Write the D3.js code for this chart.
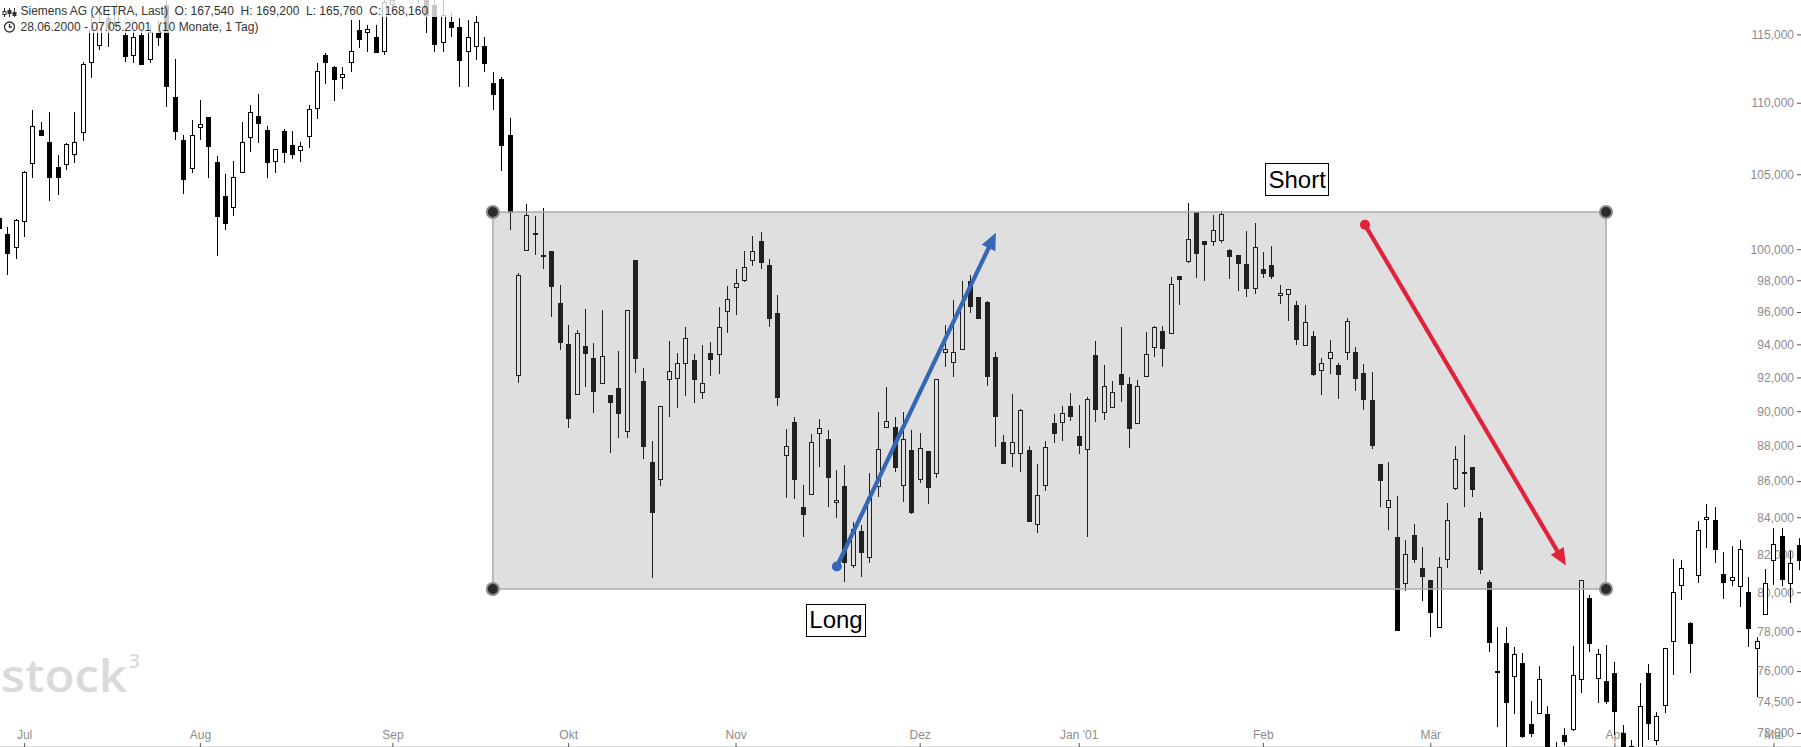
<!DOCTYPE html>
<html>
<head>
<meta charset="utf-8">
<script src="https://cdn.jsdelivr.net/npm/d3@7"></script>
<style>
body { margin: 0; background: #fff; }
svg { display: block; font-family: Arial, "Liberation Sans", sans-serif; }
</style>
</head>
<body>
<div id="chart"></div>
<script>
// Data: daily candles, 28.06.2000 - 07.05.2001 (one entry per trading day)
var openP = [
  102.05, 101.00, 100.15, 101.86, 105.77, 108.07, 107.23, 105.50, 105.70, 106.39,
  107.93, 112.95, 114.21, 116.23, 115.71, 114.96, 113.47, 114.96, 113.18, 115.11,
  117.22, 110.41, 107.37, 105.43, 108.28, 108.98, 105.84, 103.52, 102.79, 105.15,
  107.58, 109.06, 108.07, 105.91, 108.00, 107.02, 106.67, 107.65, 109.62, 113.47,
  112.59, 111.86, 112.95, 115.33, 115.18, 114.81, 113.77, 117.30, 117.99, 118.77,
  118.22, 117.60, 117.22, 114.43, 115.93, 115.56, 113.77, 114.14, 114.14, 111.42,
  111.71, 107.72, 92.14, 99.95, 101.06, 99.63, 99.89, 96.56, 94.02, 91.01,
  93.90, 93.17, 91.67, 90.95, 91.37, 88.85, 99.30, 91.79, 87.07, 86.12,
  91.91, 91.97, 92.87, 93.05, 91.13, 93.47, 93.41, 96.06, 97.57, 98.02,
  99.30, 100.54, 98.98, 95.94, 87.47, 89.37, 84.56, 85.28, 88.73, 88.39,
  84.84, 85.72, 81.43, 83.25, 81.85, 85.72, 89.08, 89.08, 85.78, 87.76,
  86.12, 87.70, 86.45, 93.53, 92.93, 93.72, 97.96, 96.94, 96.63, 93.23,
  88.21, 87.58, 87.58, 87.76, 83.63, 85.78, 89.31, 89.37, 90.31, 88.56,
  87.81, 93.35, 89.95, 90.25, 92.20, 91.61, 89.31, 92.08, 93.84, 94.82,
  94.70, 98.28, 99.24, 102.45, 100.51, 100.51, 100.60, 99.95, 99.63, 99.05,
  97.51, 98.72, 98.98, 97.04, 97.13, 96.44, 93.96, 94.51, 92.44, 93.17,
  92.75, 93.53, 93.53, 92.26, 90.66, 86.96, 84.56, 82.93, 80.48, 83.03,
  81.27, 80.64, 78.21, 81.75, 85.61, 86.45, 86.79, 83.96, 80.53, 75.95,
  77.40, 75.76, 76.40, 73.43, 73.95, 73.91, 72.30, 72.90, 73.19, 75.61,
  79.70, 75.66, 75.51, 75.90, 73.00, 72.40, 72.29, 75.90, 72.67, 74.34,
  77.50, 80.38, 78.41, 80.90, 83.90, 83.85, 80.95, 80.64, 80.32, 80.01,
  77.15, 78.87, 81.69, 82.98, 80.48, 82.50
];
var highP = [
  102.39, 101.46, 101.99, 105.22, 109.48, 108.63, 109.34, 106.32, 107.16, 109.34,
  112.95, 116.46, 116.99, 116.99, 117.45, 115.48, 115.33, 115.33, 115.71, 116.08,
  117.60, 113.18, 107.72, 108.77, 110.20, 108.98, 106.25, 105.02, 105.91, 108.63,
  109.84, 110.63, 108.35, 106.74, 108.14, 108.00, 107.23, 109.84, 112.88, 113.62,
  112.66, 112.59, 116.08, 116.08, 115.71, 115.71, 117.83, 118.06, 119.94, 119.55,
  118.77, 117.99, 117.60, 117.60, 116.69, 116.23, 116.08, 116.39, 114.81, 112.22,
  111.86, 108.91, 98.47, 102.99, 102.19, 102.72, 99.89, 97.70, 95.19, 94.88,
  96.19, 94.08, 96.12, 90.95, 93.59, 96.12, 99.30, 92.56, 88.27, 90.31,
  94.21, 93.47, 95.07, 93.41, 93.96, 94.14, 96.31, 97.64, 98.72, 99.89,
  100.87, 101.13, 99.37, 97.07, 88.96, 89.66, 85.78, 88.67, 89.54, 88.91,
  86.62, 86.90, 83.74, 83.58, 86.45, 89.95, 91.43, 89.66, 89.95, 88.91,
  88.73, 87.70, 91.91, 95.19, 96.75, 97.96, 98.34, 96.94, 96.69, 93.53,
  88.62, 91.01, 90.13, 87.98, 86.96, 88.27, 89.84, 90.31, 91.07, 90.36,
  90.84, 94.21, 92.75, 91.79, 95.07, 92.02, 91.85, 94.76, 95.13, 95.13,
  98.21, 98.28, 103.05, 102.45, 100.54, 102.25, 102.52, 100.02, 99.63, 101.19,
  101.72, 99.82, 100.21, 97.70, 97.45, 96.69, 96.44, 94.82, 93.17, 94.27,
  92.87, 95.63, 93.84, 92.81, 92.32, 86.96, 87.07, 85.17, 82.76, 83.63,
  82.39, 80.64, 81.85, 84.78, 87.98, 88.62, 86.79, 84.29, 80.64, 78.21,
  78.21, 77.20, 76.90, 74.53, 76.25, 74.29, 72.57, 73.24, 77.25, 80.64,
  79.86, 77.10, 77.30, 76.45, 73.38, 72.67, 75.41, 76.35, 74.00, 77.15,
  81.75, 81.69, 78.47, 83.79, 84.73, 84.56, 82.12, 82.44, 82.76, 80.80,
  77.70, 81.22, 83.41, 83.41, 82.17, 82.87
];
var lowP = [
  101.13, 98.34, 99.37, 100.80, 104.74, 107.65, 103.19, 103.59, 105.29, 105.77,
  107.30, 111.79, 113.84, 114.06, 115.48, 112.95, 112.88, 112.73, 112.88, 114.14,
  109.70, 107.37, 103.66, 105.08, 107.37, 104.74, 99.56, 101.26, 102.19, 105.15,
  106.53, 107.16, 104.74, 105.08, 105.77, 106.05, 105.84, 106.81, 108.84, 111.35,
  110.12, 110.99, 112.22, 113.99, 113.69, 113.69, 113.47, 116.99, 117.60, 117.60,
  117.37, 115.11, 113.69, 113.69, 114.81, 111.13, 111.13, 113.10, 112.22, 109.48,
  105.22, 101.26, 91.67, 99.89, 99.63, 98.72, 95.69, 93.66, 89.02, 90.95,
  91.43, 89.89, 91.67, 87.58, 88.44, 88.44, 92.26, 87.24, 80.74, 85.72,
  89.66, 90.19, 90.89, 90.48, 90.72, 92.08, 92.20, 94.70, 95.81, 97.89,
  98.92, 98.72, 95.07, 90.31, 85.06, 85.00, 82.93, 85.28, 86.79, 84.56,
  83.96, 80.53, 81.27, 80.80, 81.54, 85.11, 89.08, 86.51, 84.84, 84.18,
  85.89, 84.73, 86.17, 92.63, 92.02, 93.72, 95.94, 95.63, 91.49, 87.93,
  87.02, 86.79, 86.51, 83.79, 83.14, 85.45, 88.16, 88.27, 89.43, 87.53,
  82.93, 89.37, 89.49, 90.19, 90.54, 87.87, 89.25, 92.08, 93.23, 92.63,
  94.70, 96.44, 99.11, 98.15, 97.96, 100.21, 100.41, 98.08, 97.32, 96.94,
  97.13, 98.15, 98.08, 96.50, 95.44, 93.96, 93.96, 92.08, 90.95, 92.20,
  90.72, 93.05, 91.19, 90.07, 87.81, 84.56, 83.30, 78.06, 80.06, 81.54,
  79.54, 77.70, 78.21, 81.27, 85.50, 84.56, 85.11, 80.95, 76.95, 73.28,
  72.20, 73.91, 72.76, 72.81, 73.95, 71.50, 71.80, 72.40, 73.09, 74.92,
  76.95, 74.44, 74.39, 72.90, 71.73, 71.90, 71.96, 72.67, 72.43, 73.95,
  75.81, 79.60, 75.90, 80.48, 82.33, 81.54, 79.65, 80.32, 79.23, 77.20,
  74.73, 78.87, 80.38, 80.32, 79.44, 81.16
];
var closeP = [
  101.39, 99.76, 101.92, 105.15, 108.35, 107.72, 104.81, 104.81, 107.09, 107.23,
  112.81, 115.33, 115.93, 115.48, 116.69, 113.40, 114.81, 112.81, 115.18, 114.81,
  111.20, 108.00, 104.68, 107.72, 108.49, 106.95, 102.19, 101.72, 104.81, 107.23,
  109.34, 108.56, 105.84, 106.74, 106.53, 106.39, 106.95, 109.55, 112.30, 112.95,
  111.71, 112.08, 113.77, 114.66, 115.41, 113.69, 117.45, 117.60, 119.16, 117.99,
  117.83, 116.46, 114.28, 116.46, 115.56, 113.10, 114.81, 115.93, 112.88, 110.63,
  107.02, 102.45, 98.34, 102.25, 101.00, 99.60, 97.64, 94.14, 89.60, 94.70,
  93.47, 91.19, 93.29, 90.54, 89.89, 96.12, 93.17, 87.98, 84.29, 90.31,
  92.38, 92.87, 94.39, 91.91, 91.67, 93.11, 95.07, 96.82, 97.83, 98.85,
  99.89, 99.17, 95.63, 90.84, 87.98, 86.12, 84.18, 88.21, 89.02, 86.23,
  84.95, 81.59, 83.36, 82.12, 85.11, 87.81, 89.43, 86.79, 88.39, 84.29,
  87.87, 85.67, 91.91, 93.72, 93.53, 96.56, 96.37, 95.63, 92.08, 89.72,
  87.02, 88.21, 90.07, 83.79, 85.22, 87.93, 88.73, 89.89, 89.72, 88.04,
  90.72, 90.13, 91.49, 91.13, 91.61, 89.02, 91.49, 93.41, 95.07, 93.78,
  97.76, 98.08, 100.67, 99.76, 100.34, 101.26, 102.32, 99.56, 99.11, 97.51,
  100.15, 98.47, 98.28, 97.19, 97.42, 94.33, 95.38, 92.20, 92.87, 93.53,
  92.20, 95.44, 91.97, 90.72, 88.04, 86.06, 84.95, 78.06, 82.01, 81.75,
  80.85, 78.98, 81.32, 83.85, 87.24, 86.51, 85.56, 81.22, 77.45, 76.00,
  74.49, 76.85, 72.85, 73.00, 75.61, 72.00, 72.00, 72.60, 75.81, 80.64,
  77.40, 76.85, 74.53, 74.05, 71.96, 72.10, 74.29, 73.48, 73.81, 77.15,
  80.01, 81.27, 77.40, 83.30, 84.01, 82.28, 80.53, 80.80, 82.28, 78.16,
  77.50, 80.48, 82.55, 80.69, 81.54, 81.69
];

// x axis: month labels at the index of the first trading day of each month
var monthLabels = ['Jul', 'Aug', 'Sep', 'Okt', 'Nov', 'Dez', "Jan '01", 'Feb', 'M\u00e4r', 'Apr', 'Mai'];
var monthIdx    = [3, 24, 47, 68, 88, 110, 129, 151, 171, 193, 212];

// y axis ticks
var priceTicks = [115, 110, 105, 100, 98, 96, 94, 92, 90, 88, 86, 84, 82, 80, 78, 76, 74.5, 73];

// drawings: zone, arrows, labels  ([index, price])
var zoneIdx     = [59, 192];
var zonePrice   = [102.45, 80.17];
var longArrow   = [[100.1, 81.35], [119.1, 101.08]];
var shortArrow  = [[163.2, 101.60], [187.2, 81.40]];
var labelText   = ['Short', 'Long'];
var labelIdx    = [155.1, 100.0];
var labelPrice  = [104.67, 78.57];

var chart_width  = 1801;
var chart_height = 747;

var de = d3.formatLocale({ decimal: ',', thousands: '.', grouping: [3], currency: ['', ' \u20ac'] });
var fmt = de.format(',.3f');

var x = d3.scaleLinear().domain([0, 215]).range([-1, 1798.55]);
var y = d3.scaleLog().domain([73, 115]).range([733, 34.4]);

var svg = d3.select('#chart')
    .append('svg')
    .attr('width', chart_width)
    .attr('height', chart_height);

// y axis (labels sit under the candles)
var yAxis = svg.append('g')
    .attr('transform', 'translate(' + chart_width + ',0)')
    .call(d3.axisLeft(y).tickValues(priceTicks).tickFormat(fmt).tickSize(4).tickPadding(3));
yAxis.select('.domain').remove();
yAxis.selectAll('text').attr('fill', '#8c8c8c').style('font-size', '12px').style('font-family', 'Arial, "Liberation Sans", sans-serif');
yAxis.selectAll('line').attr('stroke', '#555');

// x axis
svg.append('line')
    .attr('x1', 0).attr('x2', chart_width)
    .attr('y1', 746.5).attr('y2', 746.5)
    .attr('stroke', '#dcdcdc');
var xAxis = svg.append('g')
    .attr('transform', 'translate(0,747)')
    .call(d3.axisTop(x).tickValues(monthIdx).tickFormat(function(d, i){ return monthLabels[i]; }).tickSize(4).tickPadding(4));
xAxis.select('.domain').remove();
xAxis.selectAll('text').attr('fill', '#8c8c8c').style('font-size', '12px').style('font-family', 'Arial, "Liberation Sans", sans-serif');
xAxis.selectAll('line').attr('stroke', '#555');

// watermark
var logo = svg.append('g').attr('fill', '#dadada');
logo.append('text')
    .attr('x', 1).attr('y', 692)
    .attr('textLength', 126).attr('lengthAdjust', 'spacingAndGlyphs')
    .style('font-family', '"Open Sans", Arial, sans-serif')
    .style('font-size', '45px')
    .style('font-weight', 600)
    .text('stock');
logo.append('text')
    .attr('x', 129).attr('y', 668)
    .style('font-family', '"Open Sans", Arial, sans-serif')
    .style('font-size', '19px')
    .style('font-weight', 600)
    .text('3');

// candles
var candles = svg.selectAll('g.candle')
    .data(d3.range(openP.length))
    .enter()
    .append('g')
    .attr('class', 'candle');

candles.append('line')
    .attr('x1', function(i){ return Math.round(x(i)) + 0.5; })
    .attr('x2', function(i){ return Math.round(x(i)) + 0.5; })
    .attr('y1', function(i){ return y(highP[i]); })
    .attr('y2', function(i){ return y(lowP[i]); })
    .attr('stroke', '#000')
    .attr('stroke-width', 1);

candles.append('rect')
    .attr('x', function(i){ return Math.round(x(i)) - 1.5; })
    .attr('width', 4)
    .attr('y', function(i){ return Math.round(y(Math.max(openP[i], closeP[i]))) + 0.5; })
    .attr('height', function(i){
        var h = Math.round(y(Math.min(openP[i], closeP[i]))) - Math.round(y(Math.max(openP[i], closeP[i])));
        return Math.max(1, h);
    })
    .attr('fill', function(i){ return closeP[i] >= openP[i] ? '#fff' : '#000'; })
    .attr('stroke', '#000')
    .attr('stroke-width', 1);

// zone
var zx0 = x(zoneIdx[0]), zx1 = x(zoneIdx[1]);
var zy0 = y(zonePrice[0]), zy1 = y(zonePrice[1]);
svg.append('rect')
    .attr('x', zx0).attr('y', zy0)
    .attr('width', zx1 - zx0).attr('height', zy1 - zy0)
    .attr('fill', 'rgba(128,128,128,0.25)')
    .attr('stroke', '#ababab')
    .attr('stroke-width', 1.5);

// header
svg.append('rect').attr('x', 0).attr('y', 0).attr('width', 472).attr('height', 17).attr('fill', 'rgba(255,255,255,0.78)');
svg.append('rect').attr('x', 0).attr('y', 17).attr('width', 266).attr('height', 16).attr('fill', 'rgba(255,255,255,0.78)');

var icon = svg.append('g').attr('stroke', '#333').attr('stroke-width', 1).attr('fill', 'none');
[4.5, 9.5, 14.5].forEach(function(cx, k){
    icon.append('line').attr('x1', cx).attr('x2', cx).attr('y1', 8).attr('y2', 17);
    icon.append('rect').attr('x', cx - 1.5).attr('y', [11.5, 10.5, 12.5][k]).attr('width', 3).attr('height', 3)
        .attr('fill', k === 0 ? '#fff' : '#333');
});
var clock = svg.append('g').attr('stroke', '#333').attr('fill', 'none').attr('stroke-width', 1.3);
clock.append('circle').attr('cx', 9.5).attr('cy', 27).attr('r', 5);
clock.append('path').attr('d', 'M9.5,24 V27 H12');

svg.append('text')
    .attr('x', 20.5).attr('y', 15)
    .attr('fill', '#333')
    .style('font-size', '12px')
    .style('white-space', 'pre')
    .text('Siemens AG (XETRA, Last)  O: 167,540  H: 169,200  L: 165,760  C: 168,160');
svg.append('text')
    .attr('x', 20.5).attr('y', 31)
    .attr('fill', '#333')
    .style('font-size', '12px')
    .style('white-space', 'pre')
    .text('28.06.2000 - 07.05.2001  (10 Monate, 1 Tag)');

// arrows
function arrow(pts, color){
    var x0 = x(pts[0][0]), y0 = y(pts[0][1]);
    var x1 = x(pts[1][0]), y1 = y(pts[1][1]);
    var a = Math.atan2(y1 - y0, x1 - x0);
    var hl = 17, hw = 7.5;
    var bx = x1 - hl * Math.cos(a), by = y1 - hl * Math.sin(a);
    svg.append('line')
        .attr('x1', x0).attr('y1', y0)
        .attr('x2', bx + 2 * Math.cos(a)).attr('y2', by + 2 * Math.sin(a))
        .attr('stroke', color).attr('stroke-width', 4.2);
    svg.append('path')
        .attr('d', 'M' + x1 + ',' + y1 +
            'L' + (bx + hw * Math.sin(a)) + ',' + (by - hw * Math.cos(a)) +
            'L' + (bx - hw * Math.sin(a)) + ',' + (by + hw * Math.cos(a)) + 'Z')
        .attr('fill', color);
    svg.append('circle').attr('cx', x0).attr('cy', y0).attr('r', 5).attr('fill', color);
}
arrow(longArrow, '#3566b8');
arrow(shortArrow, '#e1223a');

// zone corner handles
[[zx0, zy0], [zx1, zy0], [zx0, zy1], [zx1, zy1]].forEach(function(p){
    svg.append('circle').attr('cx', p[0]).attr('cy', p[1]).attr('r', 6)
        .attr('fill', '#2b2b2b').attr('stroke', '#8a8a8a').attr('stroke-width', 2);
});

// labels
labelText.forEach(function(t, k){
    var g = svg.append('g');
    var txt = g.append('text')
        .attr('x', x(labelIdx[k])).attr('y', y(labelPrice[k]) + 8.5)
        .attr('text-anchor', 'middle')
        .attr('fill', '#000')
        .style('font-size', '24px')
        .text(t);
    var w = txt.node().getComputedTextLength();
    g.insert('rect', 'text')
        .attr('x', Math.round(x(labelIdx[k]) - w / 2 - 3) + 0.5)
        .attr('y', Math.round(y(labelPrice[k]) - 16) + 0.5)
        .attr('width', Math.round(w + 6))
        .attr('height', 32)
        .attr('fill', '#fff')
        .attr('stroke', '#000')
        .attr('stroke-width', 1);
});
</script>
</body>
</html>
